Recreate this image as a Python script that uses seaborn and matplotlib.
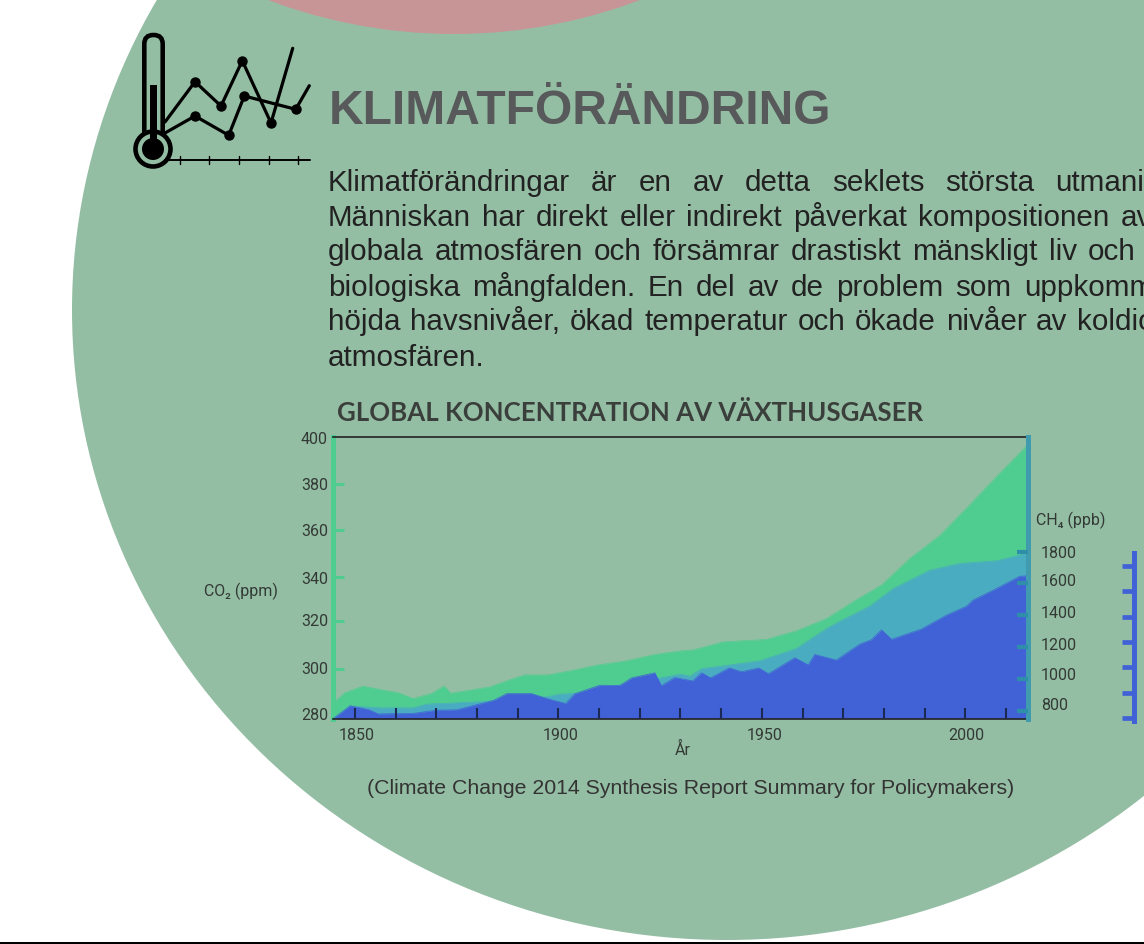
import matplotlib
matplotlib.use("Agg")
import matplotlib.pyplot as plt
from matplotlib.patches import Circle, Ellipse, Rectangle, FancyBboxPatch
import seaborn as sns
import pandas as pd

# ---- data ----
co2_years = [1844.7,1847.5,1852,1856,1860.6,1864.3,1868.8,1871.9,1873.5,1878.3,1883.2,1887.3,1891.8,1897.5,1903.6,1909.6,1916.7,1923.7,1929.9,1933.1,1940.5,1951.1,1958.5,1965.9,1972.4,1979.4,1986.4,1993.7,2000.3,2008.5,2015.4]
co2_ppm = [286.7,291,293.8,292.4,291,288.5,290.7,293.8,290.8,292.1,293.5,296.1,298.6,298.6,300.6,302.8,304.6,307.3,308.8,309.2,312.7,313.7,317.4,322.6,329.8,336.9,348.3,358,369.7,384.6,396.8]
ch4_years = [1844.7,1848.8,1856.1,1864.3,1867.6,1880.7,1888.9,1897.1,1900.4,1904.5,1923.7,1925.3,1929.9,1932.3,1935.2,1940.5,1949.5,1958.5,1965.9,1970,1976.5,1982.3,1991.3,1998.6,2007.7,2015.4]
ch4_ppb = [753,832,820,820,843,858,872,889,906,910,1004,1008,1031,1018,1066,1083,1115,1192,1317,1374,1457,1568,1683,1725,1742,1790]
n2o_years = [1844.7,1848.8,1853.3,1855.7,1864.3,1870.1,1875,1884,1887.3,1893.4,1897.9,1901.8,1904.1,1910.2,1915.1,1918,1923.7,1925.3,1928.6,1933,1935.2,1937.4,1942,1945,1949.3,1951.6,1958.1,1961.4,1963,1968.3,1974.1,1976.9,1979.4,1981.9,1989.2,1995.4,2000.3,2001.9,2007.7,2013.4,2015.4]
n2o_ppb = [270,275,273.5,271.8,272,273.3,273.4,277.1,279.8,279.8,277.5,275.9,279.8,283.1,283,286,288,282.9,286.1,284.8,288,286,289.9,288.4,289.9,287.6,293.9,291.1,295.2,293,299.3,301,304.9,301.2,305.2,310.7,314.2,316.6,321.2,326,326.2]

year_ticks = [1850,1860,1870,1880,1890,1900,1910,1920,1930,1940,1950,1960,1970,1980,1990,2000,2010]
year_labels = ["1850","1900","1950","2000"]
co2_labels = ["400","380","360","340","320","300","280"]
ch4_labels = ["1800","1600","1400","1200","1000","800"]
n2o_ticks = [270,280,290,300,310,320,330]

title = "KLIMATFÖRÄNDRING"
subtitle = "GLOBAL KONCENTRATION AV VÄXTHUSGASER"
source = "(Climate Change 2014 Synthesis Report Summary for Policymakers)"
body = ["Klimatförändringar är en av detta seklets största utmaningar.",
        "Människan har direkt eller indirekt påverkat kompositionen av den",
        "globala atmosfären och försämrar drastiskt mänskligt liv och den",
        "biologiska mångfalden. En del av de problem som uppkommer är",
        "höjda havsnivåer, ökad temperatur och ökade nivåer av koldioxid i",
        "atmosfären."]

BG = "#94bea3"; PINK = "#c89597"; GREEN = "#4fcd90"; TEAL = "#4aacc0"; BLUE = "#4162d6"
DARK = "#333a36"; GREY = "#58595b"

sns.set_theme(style="white")
W, H = 1144, 944
fig = plt.figure(figsize=(W/100, H/100), dpi=100, facecolor="white")

def px_axes(l, t, r, b, **kw):
    return fig.add_axes([l/W, 1-b/H, (r-l)/W, (b-t)/H], **kw)

bg = fig.add_axes([0, 0, 1, 1], zorder=0)
bg.set_xlim(0, W); bg.set_ylim(H, 0); bg.axis("off")
bg.add_patch(Ellipse((727, 310), 1310, 1260, fc=BG, ec="none"))
bg.add_patch(Circle((454, -492), 526, fc=PINK, ec="none"))
bg.add_patch(Rectangle((0, 941.5), W, 2.5, fc="black", ec="none"))

# thermometer icon
bg.add_patch(FancyBboxPatch((144.3, 35), 18.4, 105, boxstyle="round,pad=0,rounding_size=9", fc="none", ec="black", lw=3.3))
bg.add_patch(Circle((153, 149), 17.5, fc=BG, ec="black", lw=3.3))
bg.add_patch(Rectangle((150, 85), 6.7, 60, fc="black", ec="none"))
bg.add_patch(Circle((153, 149), 11, fc="black", ec="none"))
bg.plot([165,195,221,242.3,271,292.7],[122,81.7,106,60.7,123,48.3],color="black",lw=2.3,zorder=3)
bg.plot([165,195,228.7,244.3,295.7,309.3],[133,116,135.3,96,109.3,85.7],color="black",lw=2.3,zorder=3)
bg.plot([195,221,242.3,271,195,228.7,244.3,295.7],[81.7,106,60.7,123,116,135.3,96,109.3],"o",color="black",ms=6.5,zorder=3)
bg.plot([165,310],[160,160],color="black",lw=1.4)
for x in [180,209,239,269,298]:
    bg.plot([x,x],[156,164],color="black",lw=1)

bg.text(329, 112, title, fontsize=34.5, fontweight="bold", color=GREY, family="Liberation Sans", va="center")

# justified body, words set on a common baseline
r = fig.canvas.get_renderer()
gaps = [21, 11, 11, 12.1, 9.8, 7.5]
ys = [191, 225.5, 260.5, 295.5, 330.5, 366]
for line, y, gap in zip(body, ys, gaps):
    x = 328
    for w in line.split():
        t = bg.text(x, y, w, fontsize=21.3, color="#222222", family="Liberation Sans", va="baseline", clip_on=True)
        x = t.get_window_extent(r).x1 + gap

bg.text(337, 413, subtitle, fontsize=18.65, fontweight="bold", color="#3a3f3c", family="Lato", va="center")
bg.text(690.5, 789, source, fontsize=15.35, color="#333333", family="Liberation Sans", ha="center", va="center")

tick_font = dict(fontsize=11.5, color=DARK, family="Roboto")
bg.text(241, 591, "CO₂ (ppm)", ha="center", va="center", **{**tick_font, "family": ["Roboto", "DejaVu Sans"]})
bg.text(1071, 520, "CH₄ (ppb)", ha="center", va="center", **{**tick_font, "family": ["Roboto", "DejaVu Sans"]})
bg.text(683, 750, "År", ha="center", va="center", **tick_font)

for lab, y in zip(co2_labels, [439,486,531,579,621,669,716]):
    bg.text(328, y, lab, ha="right", va="center", **tick_font)
for lab, y in zip(ch4_labels, [554,582,614,645,676,705]):
    bg.text(1041, y, lab, ha="left", va="center", **tick_font)
for lab, x in zip(year_labels, [357,561,765,966]):
    bg.text(x, 735.5, lab, ha="center", va="center", **tick_font)

# ---- chart axes ----
XLIM = (1844.6, 2015.3)
RIGHT = 1027.5
ax = px_axes(333, 437, RIGHT, 718.5, zorder=2)
ax.patch.set_alpha(0)
df_co2 = pd.DataFrame({"År": co2_years, "CO2": co2_ppm})
sns.lineplot(data=df_co2, x="År", y="CO2", ax=ax, color=GREEN, lw=0.5, errorbar=None, sort=False)
ax.fill_between(co2_years, co2_ppm, 280, color=GREEN, lw=0)
ax.set_axisbelow(False)
ax.set_xlim(XLIM); ax.set_ylim(280, 400)
ax.set_xlabel(""); ax.set_ylabel("")
ax.set_yticks([380,360.4,340.4,321.5,301]); ax.set_yticklabels([])
ax.tick_params(axis="y", direction="in", length=8, width=2.2, color=GREEN, left=True, right=False)
ax.set_xticks([])
ax.spines["left"].set_color(GREEN); ax.spines["left"].set_linewidth(3.6)
ax.spines["right"].set_visible(False); ax.spines["bottom"].set_visible(False)
ax.spines["top"].set_color("#222222"); ax.spines["top"].set_linewidth(1.2)

ax2 = px_axes(333, 437, RIGHT, 718.5, zorder=3)
ax2.patch.set_alpha(0)
df_ch4 = pd.DataFrame({"År": ch4_years, "CH4": ch4_ppb})
sns.lineplot(data=df_ch4, x="År", y="CH4", ax=ax2, color=TEAL, lw=0.5, errorbar=None, sort=False)
ax2.fill_between(ch4_years, ch4_ppb, 753, color=TEAL, lw=0)
ax2.set_xlim(XLIM); ax2.set_ylim(753, 2518)
ax2.set_xlabel(""); ax2.set_ylabel(""); ax2.set_xticks([]); ax2.set_yticks([])
for s in ax2.spines.values():
    s.set_visible(False)

ax3 = px_axes(333, 437, RIGHT, 718.5, zorder=4)
ax3.patch.set_alpha(0)
df_n2o = pd.DataFrame({"År": n2o_years, "N2O": n2o_ppb})
sns.lineplot(data=df_n2o, x="År", y="N2O", ax=ax3, color=BLUE, lw=0.5, errorbar=None, sort=False)
ax3.fill_between(n2o_years, n2o_ppb, 270, color=BLUE, lw=0)
ax3.set_axisbelow(False)
ax3.set_xlim(XLIM); ax3.set_ylim(270, 270+281.5/2.54)
ax3.set_xlabel(""); ax3.set_ylabel(""); ax3.set_yticks([])
ax3.set_xticks(year_ticks); ax3.set_xticklabels([])
ax3.tick_params(axis="x", direction="in", length=8, width=1.5, color="#1b2a55", bottom=True)
for s in ["left","top","right"]:
    ax3.spines[s].set_visible(False)
ax3.spines["bottom"].set_color("#222222"); ax3.spines["bottom"].set_linewidth(1.2)

# right CH4 axis on top of the fills
ax4 = px_axes(333, 437, RIGHT, 718.5, zorder=5)
ax4.patch.set_alpha(0)
ax4.set_axisbelow(False)
ax4.set_xlim(XLIM); ax4.set_ylim(753, 2518); ax4.set_xticks([])
ax4.set_yticks([800,1000,1200,1400,1600,1800]); ax4.set_yticklabels([])
ax4.yaxis.tick_right()
ax4.tick_params(axis="y", direction="in", length=8, width=3, color="#2f8fa8", right=True, left=False)
for s in ["left","top","bottom"]:
    ax4.spines[s].set_visible(False)
ax4.spines["right"].set_color("#3f9bad"); ax4.spines["right"].set_linewidth(3.6)

# N2O axis standing apart to the right
ax5 = px_axes(1132.5, 553, 1133.5, 720.5, zorder=5)
ax5.patch.set_alpha(0)
ax5.set_xticks([]); ax5.set_ylim(269.1, 335.1)
ax5.set_yticks(n2o_ticks); ax5.set_yticklabels([])
ax5.tick_params(axis="y", direction="out", length=8, width=3.4, color=BLUE, left=True)
for s in ["top","bottom","left"]:
    ax5.spines[s].set_visible(False)
ax5.spines["right"].set_color(BLUE); ax5.spines["right"].set_linewidth(3.6)

fig.savefig("out.png", dpi=100)
